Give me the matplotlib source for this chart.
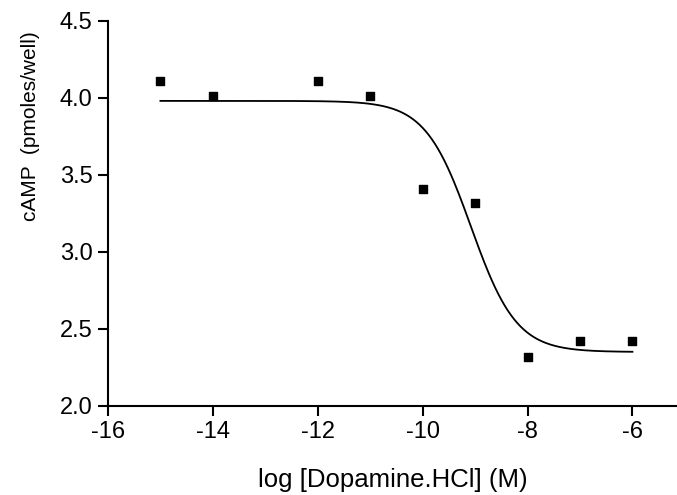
import numpy as np
import matplotlib
matplotlib.use("Agg")
import matplotlib.pyplot as plt

plt.rcParams['font.family'] = ['Liberation Sans', 'DejaVu Sans']

# measured points
log_conc = [-15, -14, -12, -11, -10, -9, -8, -7, -6]
camp = [4.11, 4.01, 4.11, 4.01, 3.41, 3.32, 2.32, 2.42, 2.42]

# sigmoidal dose-response fit parameters
fit_top = 3.98
fit_bottom = 2.35
fit_log_ec50 = -9.08
fit_hill = 1.0

xticks = [-16, -14, -12, -10, -8, -6]
yticks = [2.0, 2.5, 3.0, 3.5, 4.0, 4.5]


def dose_response(x):
    return fit_bottom + (fit_top - fit_bottom) / (1 + 10 ** ((x - fit_log_ec50) * fit_hill))


fig = plt.figure(figsize=(6.77, 4.95), dpi=100)
ax = fig.add_axes([0.1595, 0.18, 0.8405, 0.778])

xs = np.linspace(min(log_conc), max(log_conc), 300)
ax.plot(xs, dose_response(xs), c='black', lw=1.3)
ax.scatter(log_conc, camp, marker='s', s=26, c='black', zorder=3)

ax.set_xlim(-16, -5.15)
ax.set_ylim(2.0, 4.5)
ax.set_xticks(xticks)
ax.set_xticklabels([str(t) for t in xticks])
ax.set_yticks(yticks)
ax.set_yticklabels([f'{t:.1f}' for t in yticks])

for side in ['top', 'right']:
    ax.spines[side].set_visible(False)
for side in ['left', 'bottom']:
    ax.spines[side].set_linewidth(1.5)

ax.tick_params(direction='out', length=7.5, width=1.5, labelsize=17, pad=3.5)
ax.set_xlabel('log [Dopamine.HCl] (M)', fontsize=18.5, labelpad=18)
ax.set_ylabel('cAMP  (pmoles/well)', fontsize=15)
ax.yaxis.set_label_coords(-0.12, 0.727)

fig.savefig('out.png', dpi=100)
